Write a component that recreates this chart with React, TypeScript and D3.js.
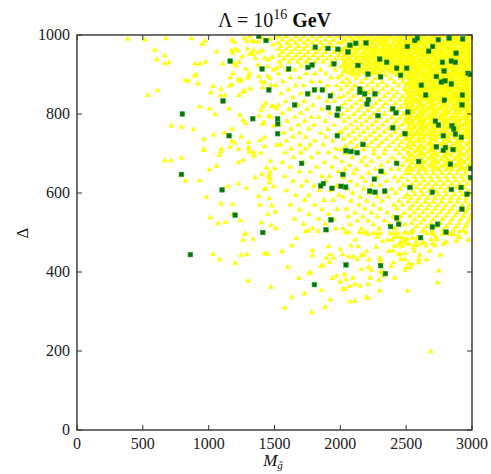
import * as d3 from "d3";

const xTicks = [0, 500, 1000, 1500, 2000, 2500, 3000];
const yTicks = [0, 200, 400, 600, 800, 1000];

// dark green squares (M_gluino, Delta)
const greenPoints: [number, number][] = [
  [1380, 997], [1436, 986], [1163, 934], [1406, 914], [1457, 861], [1109, 833],
  [800, 800], [1335, 788], [1155, 745], [793, 647], [1102, 608], [1201, 544],
  [1411, 500], [861, 444], [2043, 418], [2306, 416], [2342, 396], [1803, 368],
  [2610, 487], [2803, 501], [1810, 969], [1906, 966], [1982, 964], [2073, 974],
  [2117, 979], [2195, 980], [2058, 957], [2509, 971], [2565, 986], [2585, 992],
  [2744, 988], [2826, 992], [2929, 990], [2701, 971], [2671, 959], [2879, 954],
  [2299, 939], [2352, 931], [1952, 927], [1785, 924], [1754, 918], [1608, 914],
  [2134, 923], [2428, 916], [2504, 916], [2775, 931], [2843, 934], [2874, 931],
  [2788, 909], [2970, 903], [2988, 900], [2210, 901], [2306, 894], [2458, 898],
  [2729, 895], [2767, 881], [2795, 884], [2843, 876], [2615, 873], [2648, 848],
  [2927, 848], [2790, 835], [2924, 823], [1803, 861], [1863, 861], [1752, 851],
  [1924, 846], [2147, 863], [2149, 855], [2185, 851], [2263, 851], [2213, 836],
  [2203, 825], [1653, 823], [1909, 816], [1985, 813], [1975, 797], [2398, 813],
  [2423, 803], [2512, 805], [2286, 796], [1524, 788], [1524, 775], [1524, 750],
  [2722, 782], [2745, 772], [2848, 770], [2861, 762], [2398, 765], [2491, 750],
  [2874, 749], [2782, 745], [2919, 741], [1977, 745], [2172, 723], [2729, 717],
  [2798, 715], [2782, 708], [2856, 710], [2043, 707], [2081, 705], [2127, 702],
  [1706, 675], [2428, 675], [2595, 680], [2836, 673], [2990, 662], [2309, 655],
  [2020, 647], [2990, 639], [2258, 635], [1871, 624], [1851, 618], [1937, 612],
  [2005, 617], [2041, 615], [2529, 614], [2223, 605], [2263, 602], [2337, 605],
  [2699, 602], [2843, 609], [2917, 614], [2962, 597], [2924, 559], [1929, 532],
  [2428, 537], [2382, 515], [2443, 521], [1891, 507], [2699, 514], [2739, 521],
];

// yellow triangles, sparse parts read point by point
const yellowScattered: [number, number][] = [
  [385, 990], [517, 988], [674, 991], [869, 991], [975, 985], [952, 977], [590, 962],
  [666, 948], [605, 938], [666, 928], [699, 930], [899, 927], [935, 927], [975, 932],
  [1059, 958], [1107, 927], [902, 900], [892, 896], [823, 885], [846, 883], [917, 877],
  [613, 860], [537, 847], [1033, 870], [1094, 863], [1016, 854], [1087, 847], [1125, 847],
  [1158, 871], [1163, 892], [1185, 902], [1229, 847], [930, 818], [1006, 813], [1049, 799],
  [1155, 813], [1236, 797], [1261, 784], [1282, 776], [717, 770], [793, 767], [884, 761],
  [1036, 747], [1117, 752], [1178, 762], [1175, 732], [1198, 727], [1246, 742], [965, 736],
  [965, 711], [960, 708], [1099, 711], [1092, 705], [1082, 696], [1163, 716], [1226, 711],
  [1302, 728], [1302, 715], [1307, 711], [1310, 704], [1345, 702], [1342, 694], [1396, 701],
  [666, 682], [712, 682], [793, 689], [1226, 677], [1261, 683], [1006, 659], [1059, 668],
  [823, 631], [930, 631], [1145, 616], [1226, 624], [1284, 612], [1353, 639], [1403, 647],
  [1464, 654], [1454, 641], [1467, 635], [1424, 611], [1434, 610], [983, 589], [1094, 573],
  [1183, 571], [1380, 592], [1388, 570], [1459, 586], [1479, 568], [1013, 538], [1183, 546],
  [1239, 530], [1449, 546], [1505, 552], [1071, 523], [1127, 526], [1401, 525], [1474, 518],
  [1510, 510], [1279, 497],
  [1180, 988], [1193, 982], [1272, 992], [1289, 984], [1312, 997], [1327, 986], [1345, 983],
  [1378, 983], [1408, 993], [1464, 990], [1489, 975], [1505, 993], [1294, 965], [1342, 962],
  [1380, 956], [1325, 954], [1310, 951], [1337, 951], [1353, 941], [1254, 945], [1173, 961],
  [1183, 954], [1201, 964], [1223, 960], [1408, 960], [1426, 941], [1457, 937], [1484, 944],
  [1451, 920], [1494, 912], [1515, 916], [1375, 924], [1282, 914], [1231, 932], [1193, 928],
  [1206, 922], [1310, 903], [1304, 895], [1292, 891], [1221, 888], [1234, 882], [1249, 886],
  [1175, 875], [1380, 895], [1401, 882], [1426, 879], [1449, 896], [1464, 890], [1408, 867],
  [1474, 873], [1315, 864], [1272, 858], [1259, 855], [1434, 827], [1413, 819], [1398, 809],
  [1477, 819], [1454, 795], [1492, 820], [1515, 814], [1418, 779], [1408, 774], [1494, 770],
  [1472, 792], [1383, 795], [1388, 733], [1424, 740], [1426, 718], [1439, 664], [1462, 646],
  [1494, 616], [1459, 626], [1502, 662], [1469, 680], [1517, 721],
  [1277, 496], [1261, 481], [1337, 483], [1033, 445], [1082, 432], [1246, 443], [1292, 445],
  [1201, 422], [1426, 447], [1449, 445], [1299, 377], [1474, 362],
  [1557, 452], [1600, 412], [1630, 467], [1577, 309], [1630, 336], [1666, 486], [1684, 384],
  [1727, 345], [1737, 503], [1754, 504], [1760, 396], [1772, 399], [1782, 298], [1787, 455],
  [1790, 442], [1833, 503], [1853, 415], [1866, 416], [1856, 354], [1886, 311], [1894, 435],
  [1909, 465], [1917, 424], [1924, 330], [1924, 444], [1947, 435], [1939, 384], [1970, 390],
  [2000, 457], [1998, 375], [2015, 444], [2020, 356], [2036, 357], [2033, 394], [2041, 381],
  [2043, 500], [2063, 439], [2071, 364], [2073, 325], [2081, 467], [2096, 385], [2101, 439],
  [2109, 369], [2112, 326], [2114, 482], [2129, 432], [2134, 465], [2149, 365], [2162, 407],
  [2160, 442], [2177, 443], [2200, 452], [2198, 336], [2208, 334], [2210, 369], [2213, 412],
  [2218, 431], [2225, 385], [2236, 405], [2271, 463], [2281, 489], [2294, 379], [2299, 352],
  [2299, 436], [2309, 431], [2301, 423], [2304, 400], [2317, 400], [2324, 390], [2317, 478],
  [2360, 481], [2367, 453], [2400, 453], [2385, 415], [2403, 424], [2413, 385], [2413, 466],
  [2441, 444], [2453, 446], [2458, 432], [2491, 432], [2468, 465], [2484, 476], [2491, 447],
  [2491, 404], [2499, 411], [2527, 411], [2509, 352], [2519, 422], [2544, 419], [2552, 462],
  [2562, 453], [2577, 476], [2583, 467], [2595, 432], [2595, 424], [2603, 442], [2618, 472],
  [2653, 431], [2679, 453], [2686, 199], [2717, 467], [2739, 373], [2747, 403], [2760, 443],
  [2783, 471], [2805, 476], [2838, 495], [2881, 478], [2896, 491], [2906, 487],
  [2063, 500], [2144, 500], [2175, 500], [2198, 500], [2208, 496], [2248, 498], [2279, 498],
  [2304, 498], [2375, 498], [2408, 498], [2438, 498], [2486, 500], [2501, 498], [2534, 500],
  [2549, 503], [2620, 503], [2656, 498], [2691, 498], [2712, 496], [2722, 487], [2686, 482],
  [2701, 472], [2633, 475], [2651, 467], [2585, 487], [2547, 486], [2509, 484], [2436, 489],
  [2408, 488], [2393, 481], [2468, 487], [2496, 472], [2522, 470], [2565, 469], [2443, 469],
  [2458, 476], [2489, 481], [2734, 482], [2772, 496], [2828, 496], [2858, 496], [2906, 503],
  [2955, 499], [2972, 481],
];

// dense parts, read as rows: [Delta, M values]
const yellowRowsL: [number, number[]][] = [
  [996, [1530, 1590, 1660, 1720, 1790, 1850, 1915, 1975]],
  [988, [1560, 1625, 1690, 1755, 1820, 1885, 1950]],
  [980, [1525, 1595, 1655, 1725, 1785, 1850, 1920, 1985]],
  [972, [1550, 1615, 1680, 1745, 1810, 1875, 1940]],
  [964, [1530, 1590, 1655, 1720, 1785, 1850, 1910, 1970]],
  [956, [1560, 1625, 1690, 1755, 1820, 1885, 1950]],
  [948, [1535, 1600, 1665, 1730, 1795, 1860, 1925, 1985]],
  [940, [1570, 1635, 1700, 1765, 1830, 1895, 1960]],
  [932, [1540, 1610, 1675, 1740, 1805, 1870, 1935]],
  [922, [1548, 1702, 1768, 1925]],
  [912, [1590, 1655, 1850, 1962]],
  [902, [1530, 1740, 1805, 1890]],
  [892, [1620, 1690, 1930, 1985]],
  [882, [1565, 1780, 1845]],
  [872, [1510, 1660, 1720, 1905, 1970]],
  [862, [1605, 1815, 1880]],
  [852, [1550, 1700, 1765, 1940]],
  [842, [1640, 1835, 1990]],
  [832, [1585, 1725, 1898, 1950]],
  [822, [1530, 1680, 1790]],
  [812, [1610, 1745, 1860, 1972]],
  [802, [1560, 1700, 1920]],
  [792, [1655, 1780, 1835, 1990]],
  [782, [1595, 1730, 1885]],
  [772, [1540, 1680, 1800, 1950]],
  [762, [1625, 1760, 1905]],
  [752, [1570, 1690, 1850, 1985]],
  [742, [1640, 1735, 1890]],
  [732, [1590, 1805, 1940]],
  [722, [1545, 1690, 1770, 1870]],
  [712, [1625, 1735, 1965]],
  [702, [1580, 1700, 1830, 1910]],
  [690, [1645, 1780, 1960]],
  [678, [1560, 1715, 1880]],
  [666, [1620, 1820, 1935]],
  [654, [1690, 1770, 1985]],
  [642, [1580, 1860, 1915]],
  [630, [1640, 1745, 1890]],
  [618, [1705, 1800, 1975]],
  [606, [1590, 1840, 1925]],
  [594, [1660, 1760, 1990]],
  [582, [1730, 1875, 1945]],
  [570, [1620, 1805]],
  [558, [1690, 1860, 1975]],
  [546, [1760, 1910]],
  [534, [1650, 1835, 1950]],
  [522, [1720, 1885]],
  [510, [1790, 1965]],
];

const yellowRowsM: [number, number[]][] = [
  [996, [2010, 2060, 2125, 2170, 2230, 2290, 2335, 2380, 2440, 2480]],
  [988, [2035, 2092, 2150, 2205, 2262, 2310, 2362, 2415, 2465]],
  [980, [2005, 2070, 2118, 2180, 2240, 2285, 2345, 2395, 2450, 2490]],
  [972, [2045, 2100, 2160, 2215, 2270, 2322, 2372, 2428, 2475]],
  [964, [2020, 2082, 2138, 2192, 2250, 2305, 2355, 2408, 2460]],
  [956, [2000, 2055, 2115, 2172, 2228, 2283, 2338, 2390, 2445, 2492]],
  [948, [2030, 2090, 2150, 2205, 2262, 2320, 2372, 2425, 2475]],
  [940, [2012, 2068, 2125, 2185, 2240, 2300, 2350, 2405, 2458]],
  [932, [2040, 2100, 2160, 2220, 2280, 2335, 2388, 2440, 2488]],
  [924, [2022, 2080, 2140, 2198, 2258, 2312, 2368, 2420, 2470]],
  [916, [2050, 2110, 2170, 2232, 2290, 2345, 2398, 2452]],
  [908, [2030, 2090, 2150, 2210, 2268, 2325, 2380, 2435, 2485]],
  [899, [2010, 2090, 2140, 2230, 2300, 2345, 2430, 2490]],
  [890, [2050, 2120, 2195, 2265, 2380, 2460]],
  [881, [2015, 2070, 2160, 2240, 2315, 2410, 2475]],
  [872, [2045, 2110, 2205, 2280, 2350, 2440]],
  [863, [2005, 2085, 2170, 2245, 2320, 2395, 2485]],
  [854, [2060, 2135, 2215, 2290, 2365, 2430]],
  [845, [2025, 2100, 2185, 2255, 2335, 2405, 2470]],
  [836, [2070, 2150, 2225, 2300, 2380, 2450]],
  [827, [2035, 2120, 2190, 2270, 2345, 2420, 2490]],
  [818, [2010, 2085, 2160, 2240, 2320, 2400, 2460]],
  [809, [2055, 2135, 2210, 2290, 2375, 2440]],
  [800, [2020, 2105, 2180, 2255, 2335, 2415, 2480]],
  [791, [2065, 2150, 2225, 2300, 2390, 2455]],
  [782, [2030, 2115, 2195, 2270, 2350, 2425, 2490]],
  [773, [2080, 2160, 2240, 2320, 2405, 2470]],
  [764, [2040, 2125, 2205, 2285, 2365, 2440]],
  [755, [2010, 2095, 2175, 2255, 2335, 2415, 2485]],
  [746, [2060, 2145, 2225, 2300, 2380, 2455]],
  [737, [2025, 2110, 2190, 2270, 2350, 2430, 2495]],
  [728, [2080, 2160, 2240, 2315, 2400, 2465]],
  [719, [2040, 2125, 2210, 2290, 2370, 2445]],
  [710, [2005, 2095, 2175, 2255, 2340, 2420, 2480]],
  [700, [2040, 2130, 2255, 2330, 2445]],
  [690, [2090, 2185, 2290, 2395, 2480]],
  [680, [2010, 2160, 2235, 2360, 2420]],
  [670, [2070, 2200, 2310, 2470]],
  [660, [2035, 2120, 2265, 2385, 2440]],
  [650, [2100, 2215, 2335, 2495]],
  [640, [2020, 2160, 2280, 2410, 2465]],
  [630, [2075, 2190, 2350, 2440]],
  [620, [2125, 2240, 2300, 2480]],
  [610, [2050, 2175, 2390, 2455]],
  [600, [2095, 2220, 2330, 2420]],
  [590, [2020, 2150, 2280, 2365, 2490]],
  [580, [2080, 2200, 2315, 2445]],
  [570, [2140, 2250, 2405, 2470]],
  [560, [2045, 2185, 2300, 2430]],
  [550, [2110, 2235, 2355, 2485]],
  [540, [2060, 2170, 2280, 2400, 2460]],
  [530, [2130, 2210, 2335, 2440]],
  [520, [2075, 2250, 2370, 2490]],
  [510, [2020, 2160, 2295, 2415]],
  // extra points in the crowded top band
  [992, [2085, 2145, 2200, 2255, 2312, 2360, 2410, 2460]],
  [984, [2020, 2110, 2175, 2230, 2290, 2330, 2440, 2488]],
  [976, [2070, 2135, 2195, 2248, 2305, 2355, 2410, 2455]],
  [968, [2040, 2105, 2165, 2225, 2275, 2335, 2385, 2438, 2485]],
  [960, [2010, 2070, 2125, 2210, 2265, 2320, 2370, 2425, 2470]],
  [952, [2040, 2100, 2185, 2245, 2300, 2355, 2410, 2460]],
  [944, [2060, 2120, 2170, 2225, 2280, 2335, 2390, 2440, 2490]],
  [936, [2030, 2080, 2140, 2205, 2260, 2315, 2365, 2420, 2470]],
  [928, [2055, 2115, 2175, 2240, 2295, 2350, 2400, 2455]],
  [920, [2005, 2060, 2120, 2215, 2270, 2330, 2385, 2435, 2485]],
  [912, [2030, 2085, 2140, 2195, 2250, 2310, 2365, 2420, 2470]],
  [904, [2060, 2115, 2180, 2250, 2280, 2395, 2455]],
];

const yellowRowsR: [number, number[]][] = [
  [997, [2508, 2540, 2604, 2641, 2690, 2718, 2770, 2800, 2851, 2890, 2935, 2968]],
  [990, [2523, 2566, 2598, 2652, 2680, 2733, 2761, 2818, 2842, 2872, 2913, 2950, 2988]],
  [983, [2502, 2545, 2583, 2620, 2665, 2702, 2748, 2790, 2832, 2865, 2901, 2944, 2975]],
  [976, [2530, 2560, 2610, 2638, 2694, 2722, 2775, 2808, 2853, 2888, 2925, 2962, 2993]],
  [969, [2512, 2548, 2590, 2628, 2658, 2707, 2741, 2793, 2825, 2866, 2910, 2950, 2978]],
  [962, [2500, 2535, 2574, 2617, 2646, 2686, 2730, 2800, 2845, 2887, 2922, 2966]],
  [955, [2521, 2560, 2600, 2638, 2672, 2714, 2752, 2782, 2820, 2855, 2900, 2940, 2983]],
  [948, [2507, 2543, 2588, 2626, 2660, 2698, 2735, 2770, 2812, 2840, 2881, 2915, 2958, 2990]],
  [941, [2530, 2572, 2610, 2690, 2725, 2760, 2800, 2833, 2870, 2908, 2947, 2975]],
  [934, [2515, 2553, 2595, 2632, 2676, 2712, 2748, 2788, 2826, 2860, 2893, 2933, 2968]],
  [927, [2502, 2540, 2580, 2620, 2658, 2695, 2735, 2778, 2815, 2850, 2885, 2921, 2955, 2992]],
  [920, [2525, 2565, 2604, 2645, 2681, 2723, 2760, 2798, 2835, 2872, 2910, 2944, 2980]],
  [913, [2510, 2550, 2590, 2630, 2670, 2706, 2745, 2822, 2860, 2897, 2935, 2970]],
  [906, [2535, 2575, 2614, 2655, 2693, 2732, 2770, 2808, 2848, 2884, 2922, 2957, 2990]],
  [899, [2518, 2558, 2600, 2640, 2677, 2716, 2757, 2795, 2830, 2868, 2905, 2944, 2978]],
  [892, [2503, 2543, 2583, 2625, 2662, 2700, 2741, 2780, 2815, 2855, 2893, 2930, 2966]],
  [885, [2528, 2568, 2607, 2646, 2688, 2725, 2765, 2802, 2840, 2878, 2915, 2952, 2988]],
  [878, [2512, 2552, 2594, 2632, 2670, 2710, 2750, 2788, 2826, 2864, 2900, 2940, 2975]],
  [871, [2538, 2578, 2618, 2657, 2697, 2737, 2775, 2812, 2850, 2888, 2927, 2963]],
  [864, [2520, 2560, 2600, 2642, 2680, 2720, 2760, 2798, 2835, 2873, 2912, 2950, 2985]],
  [857, [2505, 2546, 2585, 2625, 2665, 2705, 2745, 2782, 2820, 2860, 2898, 2937, 2972]],
  [850, [2530, 2570, 2612, 2650, 2690, 2730, 2768, 2807, 2845, 2883, 2922, 2960, 2992]],
  [843, [2515, 2555, 2597, 2635, 2675, 2716, 2754, 2792, 2830, 2870, 2908, 2945, 2980]],
  [836, [2500, 2540, 2582, 2622, 2660, 2700, 2740, 2778, 2817, 2856, 2895, 2933, 2968]],
  [828, [2520, 2565, 2610, 2660, 2700, 2745, 2790, 2835, 2880, 2925, 2968]],
  [820, [2505, 2548, 2592, 2640, 2682, 2725, 2770, 2815, 2858, 2903, 2948, 2990]],
  [812, [2530, 2575, 2620, 2665, 2710, 2752, 2798, 2842, 2886, 2930, 2972]],
  [804, [2512, 2558, 2602, 2648, 2692, 2737, 2780, 2825, 2870, 2913, 2955, 2992]],
  [796, [2540, 2585, 2630, 2675, 2720, 2764, 2808, 2852, 2897, 2940, 2980]],
  [788, [2522, 2568, 2612, 2657, 2702, 2748, 2790, 2835, 2880, 2922, 2965]],
  [780, [2505, 2550, 2595, 2640, 2685, 2730, 2775, 2818, 2862, 2906, 2950, 2990]],
  [772, [2532, 2578, 2622, 2668, 2712, 2757, 2800, 2845, 2890, 2934, 2975]],
  [764, [2515, 2560, 2605, 2650, 2695, 2740, 2785, 2828, 2872, 2917, 2960]],
  [756, [2540, 2585, 2630, 2677, 2720, 2765, 2810, 2855, 2900, 2943, 2985]],
  [748, [2522, 2568, 2613, 2660, 2703, 2748, 2792, 2838, 2882, 2926, 2970]],
  [740, [2505, 2550, 2597, 2642, 2687, 2732, 2776, 2820, 2865, 2910, 2953, 2992]],
  [731, [2530, 2580, 2632, 2680, 2730, 2782, 2830, 2880, 2930, 2978]],
  [722, [2510, 2557, 2607, 2658, 2705, 2757, 2805, 2855, 2905, 2955]],
  [713, [2535, 2585, 2635, 2685, 2735, 2785, 2835, 2885, 2932, 2982]],
  [704, [2515, 2562, 2612, 2662, 2712, 2762, 2810, 2860, 2910, 2960]],
  [695, [2540, 2590, 2640, 2690, 2740, 2790, 2840, 2890, 2938, 2985]],
  [686, [2520, 2568, 2618, 2668, 2718, 2767, 2817, 2867, 2915, 2965]],
  [677, [2545, 2595, 2645, 2695, 2745, 2795, 2845, 2893, 2943, 2990]],
  [668, [2525, 2573, 2623, 2673, 2722, 2772, 2822, 2870, 2920, 2968]],
  [659, [2505, 2552, 2600, 2650, 2700, 2750, 2800, 2848, 2898, 2947, 2992]],
  [650, [2530, 2590, 2650, 2710, 2770, 2830, 2890, 2950]],
  [641, [2560, 2620, 2680, 2740, 2800, 2860, 2920, 2975]],
  [632, [2510, 2575, 2635, 2695, 2755, 2815, 2875, 2935, 2990]],
  [623, [2545, 2605, 2665, 2725, 2785, 2845, 2905, 2962]],
  [614, [2520, 2580, 2640, 2700, 2760, 2820, 2880, 2940]],
  [605, [2552, 2612, 2672, 2732, 2792, 2852, 2912, 2970]],
  [596, [2505, 2565, 2625, 2685, 2745, 2805, 2865, 2925, 2985]],
  [587, [2535, 2598, 2660, 2720, 2780, 2840, 2900, 2958]],
  [578, [2515, 2580, 2645, 2705, 2768, 2830, 2890, 2950]],
  [569, [2548, 2612, 2675, 2738, 2800, 2862, 2925, 2980]],
  [560, [2525, 2590, 2655, 2718, 2782, 2845, 2910, 2970]],
  [551, [2560, 2628, 2695, 2760, 2825, 2890, 2955]],
  [542, [2530, 2598, 2665, 2732, 2800, 2868, 2935, 2990]],
  [533, [2565, 2635, 2705, 2775, 2845, 2915, 2975]],
  [524, [2540, 2612, 2685, 2757, 2830, 2900, 2965]],
  [515, [2580, 2655, 2730, 2805, 2880, 2950]],
  [506, [2550, 2628, 2700, 2780, 2860, 2935]],
  // extra points between the rows above
  [994, [2525, 2585, 2622, 2710, 2752, 2822, 2870, 2955]],
  [986, [2515, 2600, 2683, 2725, 2810, 2890, 2930]],
  [979, [2542, 2590, 2655, 2750, 2845, 2905, 2985]],
  [972, [2505, 2573, 2640, 2710, 2780, 2835, 2940]],
  [965, [2555, 2600, 2665, 2757, 2815, 2870, 2935, 2992]],
  [958, [2515, 2585, 2650, 2705, 2768, 2840, 2915, 2965]],
  [951, [2530, 2612, 2690, 2745, 2800, 2870, 2930]],
  [944, [2510, 2555, 2640, 2705, 2785, 2855, 2890, 2962]],
  [937, [2535, 2610, 2655, 2730, 2770, 2845, 2915, 2985]],
  [930, [2520, 2565, 2645, 2715, 2800, 2870, 2940]],
  [923, [2545, 2600, 2665, 2742, 2780, 2860, 2928, 2970]],
  [916, [2500, 2570, 2620, 2690, 2765, 2840, 2910, 2955]],
  [909, [2525, 2595, 2680, 2725, 2790, 2866, 2940, 2985]],
  [902, [2550, 2620, 2660, 2740, 2815, 2885, 2925]],
  [895, [2510, 2565, 2645, 2700, 2770, 2840, 2912, 2960]],
  [888, [2540, 2590, 2665, 2748, 2820, 2860, 2935, 2975]],
  [881, [2520, 2575, 2630, 2690, 2770, 2845, 2920]],
  [874, [2500, 2560, 2640, 2715, 2790, 2870, 2945, 2985]],
  [867, [2525, 2580, 2665, 2740, 2815, 2892, 2930]],
  [860, [2545, 2620, 2700, 2780, 2850, 2925, 2968]],
  [853, [2510, 2590, 2645, 2725, 2800, 2870, 2945]],
  [846, [2535, 2610, 2685, 2770, 2840, 2890, 2960]],
  [839, [2560, 2640, 2720, 2800, 2875, 2950, 2990]],
  [832, [2525, 2595, 2680, 2760, 2840, 2910, 2945]],
  [824, [2540, 2615, 2705, 2790, 2880, 2965]],
  [816, [2510, 2600, 2690, 2775, 2865, 2950]],
  [808, [2550, 2640, 2730, 2815, 2905, 2985]],
  [800, [2530, 2620, 2710, 2795, 2885, 2970]],
  [792, [2505, 2595, 2685, 2775, 2860, 2950]],
  [784, [2545, 2630, 2720, 2810, 2895, 2980]],
  [776, [2520, 2610, 2700, 2790, 2875, 2960]],
  [768, [2560, 2645, 2735, 2825, 2912, 2990]],
  [760, [2535, 2625, 2715, 2805, 2890, 2970]],
  [752, [2505, 2595, 2685, 2775, 2865, 2955]],
  [744, [2545, 2635, 2725, 2812, 2900, 2980]],
  [735, [2515, 2605, 2700, 2805, 2905]],
  [726, [2550, 2680, 2780, 2880, 2975]],
  [717, [2510, 2610, 2710, 2810, 2905]],
  [708, [2585, 2690, 2790, 2885, 2985]],
  [699, [2520, 2615, 2715, 2815, 2915]],
  [690, [2560, 2690, 2795, 2890, 2975]],
  [681, [2505, 2620, 2720, 2820, 2920]],
  [672, [2600, 2700, 2800, 2900, 2985]],
  [663, [2530, 2630, 2730, 2825, 2925]],
];

const yellowPoints: [number, number][] = [
  ...yellowScattered,
  ...[yellowRowsL, yellowRowsM, yellowRowsR].flatMap(rows =>
    rows.flatMap(([dy, xs]) => xs.map(x => [x, dy] as [number, number]))
  ),
];

const W = 491;
const H = 474;
const left = 77, right = 472, top = 35, bottom = 430;

export default function App() {
  const x = d3.scaleLinear().domain([0, 3000]).range([left, right]);
  const y = d3.scaleLinear().domain([0, 1000]).range([bottom, top]);
  const tri = d3.symbol(d3.symbolTriangle, 10)() || "";
  const sq = 4.6;

  return (
    <div style={{ position: "absolute", left: 0, top: 0 }}>
      <svg width={W} height={H} fontFamily="'Liberation Serif', 'DejaVu Serif', serif">
        <rect width={W} height={H} fill="white" />
        <defs>
          <clipPath id="plot">
            <rect x={left} y={top} width={right - left} height={bottom - top} />
          </clipPath>
        </defs>
        <g clipPath="url(#plot)">
          {yellowPoints.map(([m, d], i) => (
            <path key={"y" + i} d={tri} transform={`translate(${x(m)},${y(d)})`}
              fill="#ffff00" stroke="#ffff00" strokeWidth={0.6} strokeLinejoin="round" />
          ))}
          {greenPoints.map(([m, d], i) => (
            <rect key={"g" + i} x={x(m) - sq / 2} y={y(d) - sq / 2} width={sq} height={sq}
              fill="#007a00" stroke="#3c963c" strokeWidth={0.6} />
          ))}
        </g>
        <rect x={left} y={top} width={right - left} height={bottom - top}
          fill="none" stroke="#333" strokeWidth={1.4} />
        {xTicks.map(t => (
          <g key={"xt" + t}>
            <line x1={x(t)} x2={x(t)} y1={bottom} y2={bottom - 5} stroke="#333" />
            <line x1={x(t)} x2={x(t)} y1={top} y2={top + 5} stroke="#333" />
            <text x={x(t)} y={449} textAnchor="middle" fontSize={16} fill="#222">{t}</text>
          </g>
        ))}
        {yTicks.map(t => (
          <g key={"yt" + t}>
            <line x1={left} x2={left + 5} y1={y(t)} y2={y(t)} stroke="#333" />
            <line x1={right} x2={right - 5} y1={y(t)} y2={y(t)} stroke="#333" />
            <text x={70} y={y(t) + 5} textAnchor="end" fontSize={16} fill="#222">{t}</text>
          </g>
        ))}
        <text x={(left + right) / 2} y={27} textAnchor="middle" fontSize={20} fill="#111">
          Λ = 10<tspan dy={-8} fontSize={14}>16</tspan>
          <tspan dx={5} dy={8} fontWeight="bold">GeV</tspan>
        </text>
        <text x={273} y={466} textAnchor="middle" fontSize={17} fontStyle="italic" fill="#111">
          M<tspan dy={2.5} fontSize={11}>g̃</tspan>
        </text>
        <text transform="translate(28,233) rotate(-90)" textAnchor="middle" fontSize={16} fill="#111">
          Δ
        </text>
      </svg>
    </div>
  );
}
